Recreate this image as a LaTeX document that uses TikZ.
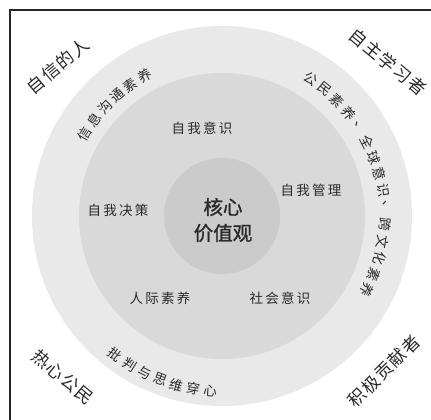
\documentclass[tikz,border=0pt]{standalone}
\usepackage{fontspec}
\newfontfamily\cjk{Noto Sans CJK SC}
\newfontfamily\cjkb{Noto Sans CJK SC}[FakeBold=1.3]
\definecolor{ringA}{HTML}{E9E9E9}
\definecolor{ringB}{HTML}{D9D9D9}
\definecolor{ringC}{HTML}{CBCBCB}
\definecolor{txt}{HTML}{2A2A2A}
\tikzset{
  ring/.style={circle, inner sep=0pt, draw=none},
  arcch/.style={font=\cjk\fontsize{13.5}{14}\selectfont, text=txt, inner sep=0pt},
  midlbl/.style={font=\cjk\fontsize{13.5}{14}\selectfont, text=txt, inner sep=0pt},
  corelbl/.style={font=\cjkb\fontsize{19.5}{20}\selectfont, text=txt, inner sep=0pt},
  cornerlbl/.style={font=\cjk\fontsize{17.5}{18}\selectfont, text=txt, inner sep=0pt},
  frameline/.style={line width=1.2pt, draw=black!85}
}
\newcommand{\gp}{\hspace{2.2pt}}
\begin{document}
\begin{tikzpicture}[x=1pt,y=1pt]
\useasboundingbox (0,0) rectangle (431,420);
\fill[white] (0,0) rectangle (431,420);
\coordinate (C) at (222,204);
% frame
\coordinate (fb) at (10,0);
\coordinate (fc) at (10,410);
\coordinate (fr) at (431,410);
\draw[frameline] (fb) -- (fc) -- (fr);
% rings
\node[ring, fill=ringA, minimum size=380pt] (outer) at (C) {};
\node[ring, fill=ringB, minimum size=286pt] (middle) at (C) {};
\node[ring, fill=ringC, minimum size=116pt] (inner) at (C) {};
% core
\node[corelbl] (core1) at (223,213) {核心};
\node[corelbl] (core2) at (223,187) {价值观};
% middle ring labels
\node[midlbl] (m1) at (202,292) {自\gp 我\gp 意\gp 识};
\node[midlbl] (m2) at (311,230) {自\gp 我\gp 管\gp 理};
\node[midlbl] (m3) at (118,210) {自\gp 我\gp 决\gp 策};
\node[midlbl] (m4) at (160,122) {人\gp 际\gp 素\gp 养};
\node[midlbl] (m5) at (280,122) {社\gp 会\gp 意\gp 识};
% outer ring arc texts
\foreach \ch [count=\i] in {信,息,沟,通,素,养} {
  \pgfmathsetmacro\ang{149-(\i-1)*6}
  \node[arcch, rotate=\ang-90] (a\i) at ([shift={(\ang:160pt)}]C) {\ch};
}
\foreach \ch [count=\i] in {公,民,素,养,、,全,球,意,识,、,跨,文,化,素,养} {
  \pgfmathsetmacro\ang{57-(\i-1)*6}
  \node[arcch, rotate=\ang-90] (b\i) at ([shift={(\ang:163pt)}]C) {\ch};
}
\foreach \ch [count=\i] in {批,判,与,思,维,穿,心} {
  \pgfmathsetmacro\ang{232.5+(\i-1)*5.6}
  \node[arcch, rotate=\ang+90] (d\i) at ([shift={(\ang:175pt)}]C) {\ch};
}
% corner labels
\node[cornerlbl, rotate=40] (k1) at (58,354) {自\hspace{1.5pt}信\hspace{1.5pt}的\hspace{1.5pt}人};
\node[cornerlbl, rotate=-40] (k2) at (388,358) {自\hspace{1.5pt}主\hspace{1.5pt}学\hspace{1.5pt}习\hspace{1.5pt}者};
\node[cornerlbl, rotate=-40] (k3) at (63,43) {热\hspace{1.5pt}心\hspace{1.5pt}公\hspace{1.5pt}民};
\node[cornerlbl, rotate=45] (k4) at (384,49) {积\hspace{1.5pt}极\hspace{1.5pt}贡\hspace{1.5pt}献\hspace{1.5pt}者};
\end{tikzpicture}
\end{document}
